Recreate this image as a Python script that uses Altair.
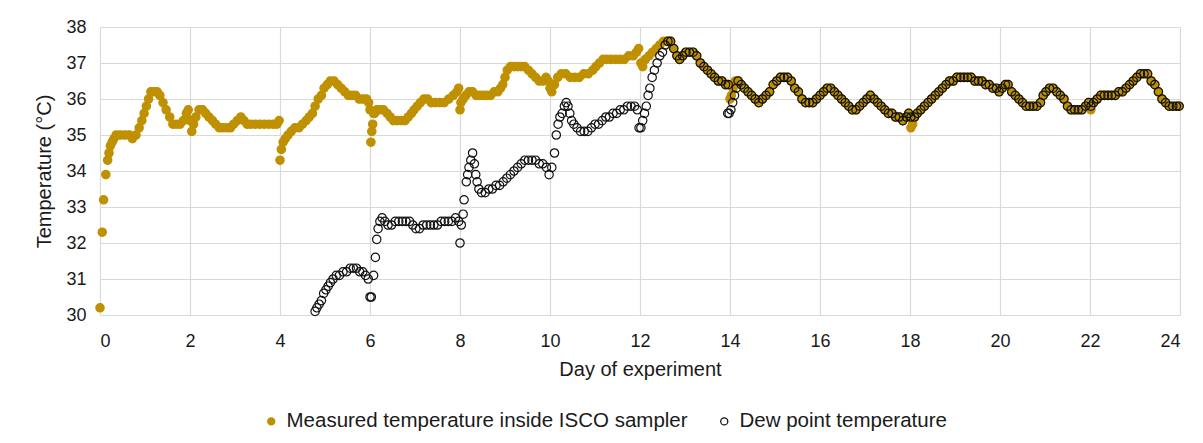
import altair as alt
import pandas as pd

GOLD_NAME = "Measured temperature inside ISCO sampler"
DEW_NAME = "Dew point temperature"

# Measured temperature, day 0 to 12.6 (gold only)
gold_day = [0.00, 0.05, 0.08, 0.13, 0.17, 0.20, 0.23, 0.27, 0.31, 0.36, 0.45, 0.55, 0.65, 0.72, 0.80, 0.87,
            0.93, 0.98, 1.03, 1.08, 1.13, 1.20, 1.27, 1.33, 1.40, 1.47, 1.55, 1.62, 1.70, 1.78, 1.85, 1.92,
            1.96, 2.00, 2.04, 2.08, 2.13, 2.20, 2.28, 2.35, 2.42, 2.50, 2.57, 2.65, 2.73, 2.82, 2.90, 2.97,
            3.05, 3.13, 3.20, 3.27, 3.35, 3.45, 3.55, 3.65, 3.75, 3.85, 3.93, 3.98,
            4.00, 4.03, 4.07, 4.12, 4.18, 4.25, 4.33, 4.42, 4.50, 4.58, 4.65, 4.72, 4.78, 4.85, 4.92, 4.98,
            5.05, 5.12, 5.20, 5.28, 5.36, 5.44, 5.52, 5.60, 5.68, 5.76, 5.84, 5.92, 5.97, 6.00, 6.02, 6.04,
            6.06, 6.08, 6.10, 6.15, 6.22,
            6.30, 6.38, 6.45, 6.52, 6.60, 6.70, 6.78, 6.85, 6.92, 6.98, 7.05, 7.12, 7.20, 7.28, 7.36, 7.45,
            7.55, 7.65, 7.75, 7.85, 7.93, 7.97, 8.00, 8.02, 8.07, 8.13, 8.20, 8.28, 8.36, 8.44, 8.52, 8.60,
            8.68, 8.76, 8.84, 8.90, 8.95, 9.00, 9.05, 9.12, 9.20, 9.28, 9.36, 9.44, 9.52, 9.60, 9.68, 9.76,
            9.84, 9.91, 9.96, 10.00, 10.04, 10.10, 10.17, 10.25, 10.35, 10.45, 10.55, 10.65, 10.75, 10.85,
            10.95, 11.02, 11.10, 11.18, 11.26, 11.35, 11.45, 11.55, 11.65, 11.75, 11.85, 11.92, 11.97,
            12.02, 12.06, 12.12, 12.20, 12.28, 12.36, 12.44, 12.52, 12.60]
gold_temp = [30.2, 32.3, 33.2, 33.9, 34.3, 34.5, 34.7, 34.8, 34.9, 35.0, 35.0, 35.0, 35.0, 34.9, 35.0, 35.2,
             35.4, 35.6, 35.8, 36.0, 36.2, 36.2, 36.2, 36.1, 35.9, 35.7, 35.5, 35.3, 35.3, 35.3, 35.4, 35.6,
             35.7, 35.4, 35.1, 35.3, 35.5, 35.7, 35.7, 35.6, 35.5, 35.4, 35.3, 35.2, 35.2, 35.2, 35.2, 35.3,
             35.4, 35.5, 35.4, 35.3, 35.3, 35.3, 35.3, 35.3, 35.3, 35.3, 35.3, 35.4,
             34.3, 34.6, 34.8, 34.9, 35.0, 35.1, 35.2, 35.2, 35.3, 35.4, 35.5, 35.6, 35.8, 36.0, 36.1, 36.3,
             36.4, 36.5, 36.5, 36.4, 36.3, 36.2, 36.1, 36.1, 36.1, 36.0, 36.0, 36.0, 35.9, 35.7, 34.8, 35.1,
             35.3, 35.6, 35.6, 35.7, 35.7,
             35.7, 35.6, 35.5, 35.4, 35.4, 35.4, 35.4, 35.5, 35.6, 35.7, 35.8, 35.9, 36.0, 36.0, 35.9, 35.9,
             35.9, 35.9, 36.0, 36.1, 36.2, 36.3, 35.7, 35.9, 36.0, 36.1, 36.2, 36.2, 36.1, 36.1, 36.1, 36.1,
             36.1, 36.2, 36.2, 36.3, 36.4, 36.6, 36.8, 36.9, 36.9, 36.9, 36.9, 36.9, 36.8, 36.7, 36.6, 36.5,
             36.5, 36.6, 36.5, 36.3, 36.2, 36.4, 36.6, 36.7, 36.7, 36.6, 36.6, 36.6, 36.7, 36.7,
             36.8, 36.9, 37.0, 37.1, 37.1, 37.1, 37.1, 37.1, 37.1, 37.2, 37.2, 37.3, 37.4,
             37.0, 36.9, 37.1, 37.2, 37.3, 37.4, 37.5, 37.6, 37.6]

# Extra gold-only readings where the gold dips below the dew point rings
gold_extra_day = [14.00, 14.03, 14.07, 14.12, 18.02, 18.06, 22.02]
gold_extra_temp = [36.0, 36.1, 36.3, 36.5, 35.2, 35.3, 35.7]

# Dew point, day 4.8 to 12.6 (dew only)
dew_day = [4.78, 4.82, 4.87, 4.92, 4.97, 5.02, 5.07, 5.12, 5.18, 5.25, 5.32, 5.40, 5.48, 5.56, 5.63, 5.70,
           5.77, 5.84, 5.90, 5.96, 6.00, 6.03, 6.08, 6.12, 6.15, 6.18, 6.22, 6.27, 6.33, 6.40, 6.48, 6.56,
           6.64, 6.72, 6.80, 6.88, 6.95, 7.02, 7.10, 7.18, 7.26, 7.34, 7.42, 7.50, 7.58, 7.66, 7.74, 7.82,
           7.90, 7.97, 8.00, 8.03, 8.07, 8.09, 8.14, 8.17, 8.20, 8.24, 8.28, 8.32, 8.35, 8.38, 8.42, 8.48,
           8.56, 8.64, 8.72, 8.80, 8.88, 8.96, 9.04, 9.12, 9.20, 9.28, 9.36, 9.44, 9.52, 9.60, 9.68, 9.76,
           9.84, 9.92, 9.98, 10.04, 10.10, 10.14, 10.18, 10.22, 10.27, 10.32, 10.36, 10.40, 10.44, 10.48,
           10.53, 10.60, 10.68, 10.76, 10.84, 10.92, 11.00, 11.08, 11.16, 11.24, 11.32, 11.40, 11.48, 11.56,
           11.64, 11.72, 11.80, 11.88, 11.94, 11.98, 12.02, 12.06, 12.10, 12.14, 12.18, 12.22, 12.27, 12.32,
           12.38, 12.44, 12.50, 12.56, 12.62]
dew_temp = [30.1, 30.2, 30.3, 30.4, 30.6, 30.7, 30.8, 30.9, 31.0, 31.1, 31.1, 31.2, 31.2, 31.3, 31.3, 31.3,
            31.2, 31.2, 31.1, 31.0, 30.5, 30.5, 31.1, 31.6, 32.1, 32.4, 32.6, 32.7, 32.6, 32.5, 32.5, 32.6,
            32.6, 32.6, 32.6, 32.6, 32.5, 32.4, 32.4, 32.5, 32.5, 32.5, 32.5, 32.5, 32.6, 32.6, 32.6, 32.6,
            32.7, 32.6, 32.0, 32.5, 32.8, 33.2, 33.7, 33.9, 34.1, 34.3, 34.5, 34.2, 33.9, 33.7, 33.5, 33.4,
            33.4, 33.5, 33.5, 33.6, 33.6, 33.7, 33.8, 33.9, 34.0, 34.1, 34.2, 34.3, 34.3, 34.3, 34.3, 34.2,
            34.2, 34.1, 33.9, 34.1, 34.5, 35.0, 35.3, 35.5, 35.6, 35.8, 35.9, 35.8, 35.6, 35.4,
            35.3, 35.2, 35.1, 35.1, 35.1, 35.2, 35.3, 35.3, 35.4, 35.5, 35.5, 35.6, 35.6, 35.7,
            35.7, 35.8, 35.8, 35.8, 35.7, 35.2, 35.2, 35.4, 35.6, 35.8, 36.1, 36.3, 36.6, 36.8,
            37.0, 37.2, 37.3, 37.5, 37.6]

# Extra dew-only readings (dew below the gold)
dew_extra_day = [13.95, 13.98, 14.02, 14.06, 14.10, 14.14, 18.02, 22.02]
dew_extra_temp = [35.6, 35.6, 35.7, 35.9, 36.1, 36.3, 35.5, 35.8]

# Day 12.7 to 24: both series read the same (saturated air)
late_day = [12.68, 12.75, 12.82, 12.88, 12.95, 13.02, 13.10, 13.18, 13.26, 13.34, 13.42, 13.50, 13.58,
            13.66, 13.74, 13.82, 13.90, 13.96, 14.18, 14.25, 14.32, 14.40, 14.48, 14.56, 14.64, 14.72,
            14.80, 14.88, 14.96, 15.04, 15.12, 15.20, 15.28, 15.36, 15.44, 15.52, 15.60, 15.68, 15.76,
            15.84, 15.92, 16.00, 16.08, 16.16, 16.24, 16.32, 16.40, 16.48, 16.56, 16.64, 16.72, 16.80,
            16.88, 16.96, 17.04, 17.12, 17.20, 17.28, 17.36, 17.44, 17.52, 17.60, 17.68, 17.76, 17.84,
            17.92, 17.97, 18.10, 18.16, 18.24, 18.32, 18.40, 18.48, 18.56, 18.64, 18.72, 18.80, 18.88,
            18.96, 19.04, 19.12, 19.20, 19.28, 19.36, 19.44, 19.52, 19.60, 19.68, 19.76, 19.84, 19.92,
            19.98, 20.05, 20.12, 20.18, 20.26, 20.34, 20.42, 20.50, 20.58, 20.66, 20.74, 20.82, 20.90,
            20.96, 21.02, 21.10, 21.18, 21.26, 21.34, 21.42, 21.50, 21.58, 21.66, 21.74, 21.82, 21.90,
            21.97, 22.08, 22.16, 22.24, 22.32, 22.40, 22.48, 22.56, 22.64, 22.72, 22.80, 22.88, 22.96,
            23.04, 23.12, 23.20, 23.28, 23.36, 23.44, 23.52, 23.60, 23.68, 23.76, 23.84, 23.92, 23.98]
late_temp = [37.6, 37.4, 37.2, 37.1, 37.2, 37.3, 37.3, 37.3, 37.2, 37.0, 36.9, 36.8, 36.7,
             36.6, 36.5, 36.5, 36.4, 36.4, 36.5, 36.4, 36.3, 36.2, 36.1, 36.0, 35.9, 36.0,
             36.1, 36.2, 36.4, 36.5, 36.6, 36.6, 36.6, 36.5, 36.3, 36.2, 36.0, 35.9, 35.9,
             35.9, 36.0, 36.1, 36.2, 36.3, 36.3, 36.2, 36.1, 36.0, 35.9, 35.8, 35.7, 35.7,
             35.8, 35.9, 36.0, 36.1, 36.0, 35.9, 35.8, 35.7, 35.6, 35.6, 35.5, 35.5, 35.4,
             35.5, 35.6, 35.5, 35.6, 35.7, 35.8, 35.9, 36.0, 36.1, 36.2, 36.3, 36.4, 36.5,
             36.5, 36.6, 36.6, 36.6, 36.6, 36.6, 36.5, 36.5, 36.5, 36.4, 36.4, 36.3, 36.3,
             36.2, 36.3, 36.4, 36.4, 36.2, 36.1, 36.0, 35.9, 35.8, 35.8, 35.8, 35.8, 35.9,
             36.1, 36.2, 36.3, 36.3, 36.2, 36.1, 36.0, 35.8, 35.7, 35.7, 35.7, 35.7, 35.8,
             35.9, 35.9, 36.0, 36.1, 36.1, 36.1, 36.1, 36.1, 36.2, 36.2, 36.3, 36.4, 36.5,
             36.6, 36.7, 36.7, 36.7, 36.5, 36.4, 36.2, 36.0, 35.9, 35.8, 35.8, 35.8, 35.8]

x_ticks = list(range(0, 25, 2))
y_ticks = list(range(30, 39))

rows = []
for d, t in zip(gold_day + late_day + gold_extra_day, gold_temp + late_temp + gold_extra_temp):
    rows.append({"day": d, "temp": t, "series": GOLD_NAME})
for d, t in zip(dew_day + late_day + dew_extra_day, dew_temp + late_temp + dew_extra_temp):
    rows.append({"day": d, "temp": t, "series": DEW_NAME})
df = pd.DataFrame(rows)

FONT = "Liberation Sans"
TXT = "#1a1a1a"
domain = [GOLD_NAME, DEW_NAME]

legend = alt.Legend(title=None, orient="none", legendX=161, legendY=384, direction="horizontal",
                    labelFont=FONT, labelFontSize=20.5, labelColor=TXT, labelLimit=0,
                    symbolSize=50, symbolStrokeWidth=1.3, columnPadding=26, labelOffset=5)

chart = alt.Chart(df).mark_point(shape="circle", opacity=1, strokeWidth=1.2, size=70).encode(
    x=alt.X("day:Q", scale=alt.Scale(domain=[0, 24], nice=False),
            axis=alt.Axis(values=x_ticks, title="Day of experiment", format="d",
                          labelPadding=17, titlePadding=9)),
    y=alt.Y("temp:Q", scale=alt.Scale(domain=[30, 38], nice=False, zero=False),
            axis=alt.Axis(values=y_ticks, title="Temperature (°C)", format="d",
                          labelPadding=14, titlePadding=11)),
    fill=alt.Fill("series:N", scale=alt.Scale(domain=domain, range=["#BF9000", "transparent"]),
                  legend=legend),
    stroke=alt.Stroke("series:N", scale=alt.Scale(domain=domain, range=["#BF9000", "#111111"]),
                      legend=legend),
).properties(
    width=1080, height=288,
    autosize=alt.AutoSizeParams(type="none"),
    padding={"left": 92, "top": 19, "right": 15, "bottom": 118},
).configure_axis(
    grid=True, gridColor="#d9d9d9", gridWidth=1.2, domain=False, ticks=False, tickSize=0,
    labelFont=FONT, labelFontSize=18, labelColor=TXT,
    titleFont=FONT, titleFontSize=20, titleColor=TXT, titleFontWeight="normal",
).configure_view(stroke=None)

chart.save("out.html", embed_options={"renderer": "svg", "actions": False})
